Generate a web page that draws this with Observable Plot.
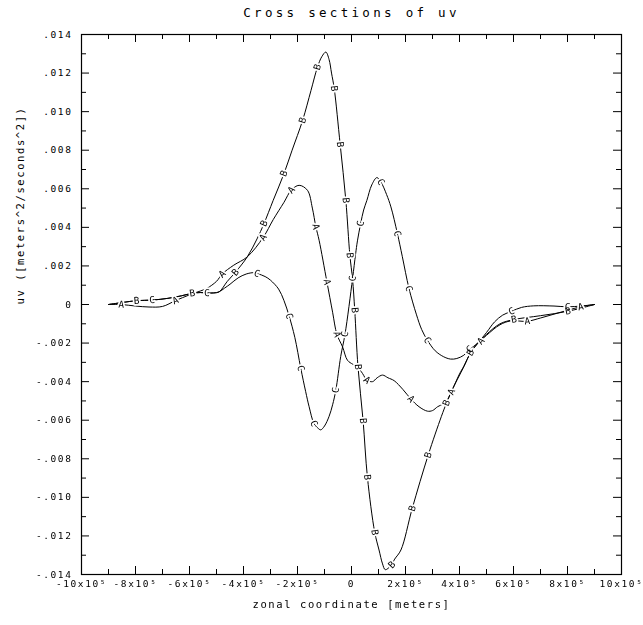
<!DOCTYPE html>
<html>
<head>
<meta charset="utf-8">
<script src="https://cdn.jsdelivr.net/npm/d3@7"></script>
<script src="https://cdn.jsdelivr.net/npm/@observablehq/plot@0.6"></script>
<style>
  html, body { margin: 0; padding: 0; background: #fff; }
  svg { display: block; }
  .curve-letters { opacity: 0.995; will-change: opacity; }
</style>
</head>
<body>
<div id="chart"></div>
<script>
// ---- data (x in units of 1e5 m, uv in units of 1e-3 m^2/s^2) ----
const X_UNIT = 1e5;
const Y_UNIT = 1e-3;

const xA = [-9, -8.53, -8.0, -7.5, -7.0, -6.52, -6.0, -5.5, -5.35, -5.0, -4.79, -4.36, -3.86, -3.27, -2.9, -2.5, -2.23, -1.94, -1.63, -1.45, -1.32, -1.2, -0.91, -0.7, -0.54, -0.33, -0.15, 0.05, 0.22, 0.41, 0.57, 0.78, 0.95, 1.15, 1.35, 1.58, 1.9, 2.2, 2.5, 2.81, 3.0, 3.19, 3.4, 3.53, 3.7, 4.0, 4.16, 4.41, 4.66, 5.0, 5.5, 5.9, 6.51, 7.0, 7.5, 8.0, 8.49, 9.0];
const yA = [0, 0, -0.08, -0.13, -0.1, 0.2, 0.5, 0.75, 0.84, 1.2, 1.58, 2.04, 2.47, 3.48, 4.4, 5.3, 5.93, 6.18, 5.92, 5.0, 4.03, 3.33, 1.17, -0.4, -1.55, -2.2, -2.89, -3.1, -3.23, -3.58, -3.92, -4.0, -3.8, -3.66, -3.8, -3.95, -4.4, -4.9, -5.3, -5.53, -5.5, -5.3, -5.15, -5.0, -4.53, -3.6, -3.2, -2.5, -2.05, -1.6, -1.05, -0.85, -0.87, -0.7, -0.5, -0.3, -0.12, 0];

const xB = [-9, -8.5, -7.96, -7.38, -6.8, -6.3, -5.9, -5.6, -5.35, -5.1, -4.9, -4.6, -4.3, -3.86, -3.5, -3.24, -2.9, -2.5, -2.2, -1.81, -1.5, -1.26, -1.1, -0.95, -0.83, -0.74, -0.64, -0.42, -0.21, -0.06, 0.04, 0.12, 0.24, 0.43, 0.59, 0.86, 1.02, 1.15, 1.25, 1.45, 1.6, 1.83, 2.25, 2.84, 3.33, 3.52, 3.7, 4.16, 4.41, 4.66, 5.0, 5.5, 6.02, 7.0, 8.02, 9.0];
const yB = [0, 0.1, 0.2, 0.23, 0.32, 0.45, 0.58, 0.62, 0.6, 0.6, 0.66, 1.2, 1.67, 2.47, 3.4, 4.2, 5.4, 6.79, 8.0, 9.55, 11.1, 12.31, 12.85, 13.09, 12.7, 12.0, 11.2, 8.3, 5.4, 2.55, 1.3, -0.3, -3.23, -6.03, -8.96, -11.81, -12.73, -13.45, -13.75, -13.55, -13.2, -12.73, -10.57, -7.81, -5.8, -5.1, -4.5, -3.23, -2.5, -2.02, -1.55, -1.0, -0.78, -0.58, -0.35, 0];

const xC = [-9, -8.5, -7.96, -7.38, -6.8, -6.3, -5.9, -5.6, -5.35, -5.1, -4.9, -4.7, -4.5, -4.2, -3.9, -3.62, -3.48, -3.2, -3.0, -2.7, -2.5, -2.31, -2.1, -1.88, -1.7, -1.57, -1.39, -1.25, -1.14, -1.0, -0.83, -0.7, -0.58, -0.4, -0.24, 0.04, 0.15, 0.22, 0.34, 0.45, 0.57, 0.75, 0.94, 1.09, 1.3, 1.46, 1.7, 1.88, 2.13, 2.4, 2.6, 2.81, 3.1, 3.4, 3.67, 3.9, 4.16, 4.38, 4.66, 5.0, 5.3, 5.6, 5.93, 6.3, 6.75, 7.5, 8.0, 8.5, 9.0];
const yC = [0, 0.1, 0.2, 0.23, 0.32, 0.45, 0.58, 0.62, 0.6, 0.6, 0.66, 0.85, 1.05, 1.38, 1.58, 1.65, 1.6, 1.45, 1.26, 0.8, 0.2, -0.6, -1.7, -3.3, -4.5, -5.3, -6.17, -6.4, -6.5, -6.3, -5.8, -5.2, -4.44, -2.7, -1.54, 1.35, 2.6, 3.3, 4.2, 4.9, 5.4, 6.2, 6.58, 6.35, 5.7, 5.06, 3.68, 2.5, 0.83, -0.5, -1.3, -1.85, -2.4, -2.7, -2.83, -2.8, -2.63, -2.32, -2.02, -1.45, -0.9, -0.55, -0.35, -0.15, -0.07, -0.08, -0.12, -0.08, 0];

// curve letter label positions (same units)
const labAx = [-8.53, -6.52, -4.79, -3.27, -2.23, -1.32, -0.91, -0.54, 0.57, 2.2, 3.7, 4.79, 6.51, 8.49];
const labAy = [0, 0.2, 1.58, 3.48, 5.93, 4.03, 1.17, -1.55, -3.92, -4.9, -4.53, -1.9, -0.87, -0.12];
const labBx = [-7.96, -5.9, -4.3, -3.24, -2.5, -1.81, -1.26, -0.64, -0.42, -0.21, -0.06, 0.12, 0.24, 0.43, 0.59, 0.86, 1.5, 2.25, 2.84, 3.52, 4.41, 6.02, 8.02];
const labBy = [0.2, 0.58, 1.67, 4.2, 6.79, 9.55, 12.31, 11.2, 8.3, 5.4, 2.55, -0.3, -3.23, -6.03, -8.96, -11.81, -13.5, -10.57, -7.81, -5.1, -2.5, -0.78, -0.35];
const labCx = [-7.38, -5.35, -3.5, -2.31, -1.88, -1.39, -0.58, -0.24, 0.04, 0.34, 1.09, 1.7, 2.13, 2.81, 4.38, 5.93, 8.0];
const labCy = [0.23, 0.6, 1.6, -0.6, -3.3, -6.17, -4.44, -1.54, 1.35, 4.2, 6.35, 3.68, 0.83, -1.85, -2.32, -0.35, -0.12];

// ticks
const xTicks = [-1e6, -8e5, -6e5, -4e5, -2e5, 0, 2e5, 4e5, 6e5, 8e5, 1e6];
const xTickLabels = ["-10x10⁵", "-8x10⁵", "-6x10⁵", "-4x10⁵", "-2x10⁵", "0", "2x10⁵", "4x10⁵", "6x10⁵", "8x10⁵", "10x10⁵"];
const xMinorTicks = [-9e5, -7e5, -5e5, -3e5, -1e5, 1e5, 3e5, 5e5, 7e5, 9e5];
const yTicks = [0.014, 0.012, 0.010, 0.008, 0.006, 0.004, 0.002, 0, -0.002, -0.004, -0.006, -0.008, -0.010, -0.012, -0.014];
const yTickLabels = [".014", ".012", ".010", ".008", ".006", ".004", ".002", "0", "-.002", "-.004", "-.006", "-.008", "-.010", "-.012", "-.014"];
const yMinorTicks = [0.013, 0.011, 0.009, 0.007, 0.005, 0.003, 0.001, -0.001, -0.003, -0.005, -0.007, -0.009, -0.011, -0.013];

const titleText = "Cross sections of uv";
const xLabelText = "zonal coordinate [meters]";
const yLabelText = "uv ([meters^2/seconds^2])";

// ---- layout ----
const W = 643, H = 625;
const M = {top: 34, right: 22, bottom: 51, left: 81};
const FW = W - M.left - M.right, FH = H - M.top - M.bottom;
const pxPerX = FW / (2e6 / X_UNIT);
const pxPerY = FH / (0.028 / Y_UNIT);

function series(xs, ys, name) {
  return xs.map((x, i) => ({x: x * X_UNIT, y: ys[i] * Y_UNIT, name}));
}
function angleAt(xs, ys, x) {
  let j = 0, best = Infinity;
  xs.forEach((v, i) => { const d = Math.abs(v - x); if (d < best) { best = d; j = i; } });
  const a = Math.max(0, j - 1), b = Math.min(xs.length - 1, j + 1);
  const dx = (xs[b] - xs[a]) * pxPerX, dy = (ys[b] - ys[a]) * pxPerY;
  return -Math.atan2(dy, dx) * 180 / Math.PI;
}
function labels(lx, ly, xs, ys, letter) {
  return lx.map((x, i) => ({x: x * X_UNIT, y: ly[i] * Y_UNIT, t: letter, r: angleAt(xs, ys, x)}));
}

const lines = [series(xA, yA, "A"), series(xB, yB, "B"), series(xC, yC, "C")];
const labs = [...labels(labAx, labAy, xA, yA, "A"), ...labels(labBx, labBy, xB, yB, "B"), ...labels(labCx, labCy, xC, yC, "C")];

const xFmt = new Map(xTicks.map((t, i) => [t, xTickLabels[i]]));
const yFmt = new Map(yTicks.map((t, i) => [t, yTickLabels[i]]));

const labOpts = {x: "x", y: "y", text: "t", rotate: "r", fontSize: 9.5, textAnchor: "middle", lineAnchor: "middle"};

const chart = Plot.plot({
  width: W, height: H,
  marginTop: M.top, marginRight: M.right, marginBottom: M.bottom, marginLeft: M.left,
  style: {fontFamily: "'DejaVu Sans Mono', monospace", background: "#fff", color: "#000", overflow: "visible"},
  x: {domain: [-1e6, 1e6], label: null},
  y: {domain: [-0.014, 0.014], label: null},
  marks: [
    ...lines.map(d => Plot.line(d, {x: "x", y: "y", curve: "catmull-rom", stroke: "black", strokeWidth: 1})),
    // white gap behind the curve letters, then the letters
    Plot.text(labs, {...labOpts, fill: "white", stroke: "white", strokeWidth: 3.5}),
    Plot.text(labs, {...labOpts, fill: "black"}),
    // inward ticks, major
    Plot.tickX(xTicks, {x: d => d, insetTop: FH - 8, stroke: "black"}),
    Plot.tickX(xTicks, {x: d => d, insetBottom: FH - 8, stroke: "black"}),
    Plot.tickY(yTicks, {y: d => d, insetRight: FW - 8, stroke: "black"}),
    Plot.tickY(yTicks, {y: d => d, insetLeft: FW - 8, stroke: "black"}),
    // minor
    Plot.tickX(xMinorTicks, {x: d => d, insetTop: FH - 5, stroke: "black"}),
    Plot.tickX(xMinorTicks, {x: d => d, insetBottom: FH - 5, stroke: "black"}),
    Plot.tickY(yMinorTicks, {y: d => d, insetRight: FW - 5, stroke: "black"}),
    Plot.tickY(yMinorTicks, {y: d => d, insetLeft: FW - 5, stroke: "black"}),
    Plot.frame({stroke: "black", strokeWidth: 1.2}),
    Plot.axisX(xTicks, {anchor: "bottom", tickSize: 0, tickPadding: 6, tickFormat: d => xFmt.get(d), fontSize: 9.5, label: null}),
    Plot.axisY(yTicks, {anchor: "left", tickSize: 0, tickPadding: 9, tickFormat: d => yFmt.get(d), fontSize: 9.5, label: null}),
    Plot.text([titleText], {frameAnchor: "top", dy: -22, fontSize: 12.5, fill: "black", lineAnchor: "middle"}),
    Plot.text([xLabelText], {frameAnchor: "bottom", dy: 30, fontSize: 10.5, fill: "black", lineAnchor: "middle"}),
    Plot.text([yLabelText], {frameAnchor: "left", dx: -61, rotate: -90, fontSize: 10.5, fill: "black", lineAnchor: "middle"})
  ]
});

document.getElementById("chart").appendChild(chart);

// letter spacing to mimic the wide stroke font; greyscale antialiasing for curve letters
d3.select(chart).selectAll("text").each(function () {
  const t = this.textContent;
  let ls = "1.6px";
  if (t === titleText) ls = "3.3px";
  else if (t.length === 1 && /[ABC]/.test(t)) {
    ls = "0px";
    this.parentNode.classList.add("curve-letters");
  }
  this.style.letterSpacing = ls;
});
</script>
</body>
</html>
